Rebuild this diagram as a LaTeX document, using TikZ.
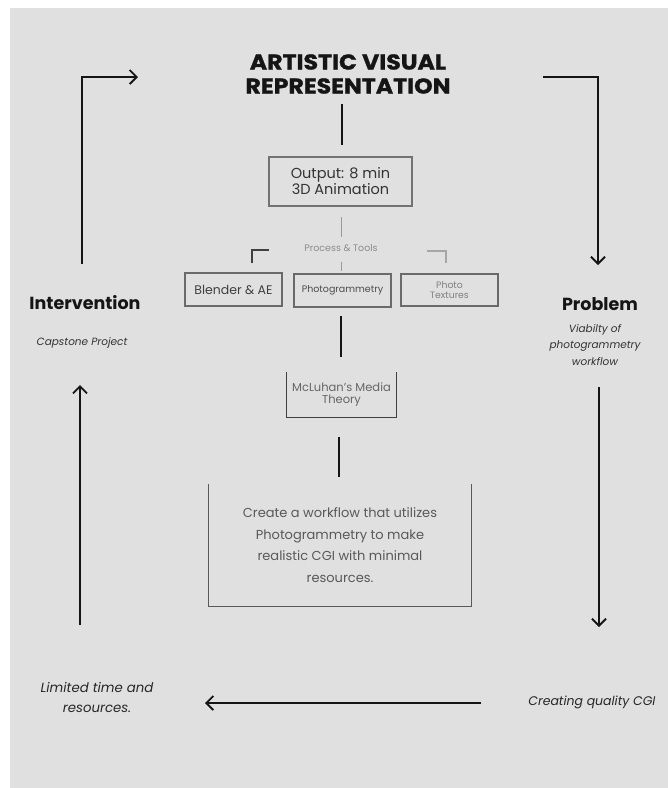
\documentclass[tikz,border=0pt]{standalone}
\usepackage{fontspec}
\setmainfont{Poppins}
\usetikzlibrary{arrows.meta}
\definecolor{bgc}{HTML}{E0E0E0}
\definecolor{ink}{HTML}{151515}
\definecolor{boxline}{HTML}{6A6A6A}
\tikzset{
  bigarrow/.style={draw=ink, line width=1.9pt, -{Straight Barb[length=7pt,width=14pt]}},
  plainline/.style={draw=ink, line width=1.3pt},
  thinline/.style={draw=#1, line width=1pt},
  thinline/.default={gray},
  boxnode/.style={draw=boxline, line width=1.2pt, inner sep=0pt, align=center},
  opennode/.style={inner sep=0pt, align=center},
  label/.style={inner sep=0pt, align=center},
}
\begin{document}
\begin{tikzpicture}[x=1pt,y=-1pt]
\useasboundingbox (0,0) rectangle (668,788);
\fill[white] (0,0) rectangle (668,788);
\fill[bgc] (10,8) rectangle (668,788);

% title
\node[label, text=ink, font=\fontsize{21.5}{24}\selectfont\bfseries\addfontfeatures{FakeStretch=1.1,FakeBold=1.2}] (title) at (348,74) {ARTISTIC VISUAL\\REPRESENTATION};

% side labels
\node[label, text=ink, font=\fontsize{17.5}{20}\selectfont\bfseries] (interv) at (85,303) {Intervention};
\node[label, text=black!80, font=\fontsize{10.5}{12}\selectfont\itshape] (capst) at (82,343) {Capstone Project};
\node[label, text=ink, font=\fontsize{17.5}{20}\selectfont\bfseries] (problem) at (600,304) {Problem};
\node[label, text=black!80, font=\fontsize{10.5}{16.5}\selectfont\itshape] (viab) at (595,345) {Viabilty of\\photogrammetry\\workflow};
\node[label, text=black!85, font=\fontsize{13.3}{20}\selectfont\itshape] (limited) at (97,697) {Limited time and\\resources.};
\node[label, text=black!85, font=\fontsize{12.5}{14}\selectfont\itshape] (creating) at (592,702) {Creating quality CGI};

% boxes
\node[boxnode, draw=black!55, minimum width=143pt, minimum height=49pt, text=black!80, font=\fontsize{14.5}{16}\selectfont] (out) at (340.5,181.5) {Output: 8 min\\3D Animation};
\node[label, text=black!45, font=\fontsize{9.5}{11}\selectfont] (proc) at (341,248) {Process \& Tools};
\node[boxnode, minimum width=97pt, minimum height=33pt, text=black!75, font=\fontsize{12.5}{14}\selectfont] (blender) at (233.5,289.5) {Blender \& AE};
\node[boxnode, minimum width=97pt, minimum height=33pt, text=black!70, font=\fontsize{9.5}{11}\selectfont] (photog) at (342.5,290.5) {Photogrammetry};
\node[boxnode, minimum width=97pt, minimum height=32pt, text=black!50, font=\fontsize{9.3}{10.5}\selectfont] (tex) at (449.5,290) {Photo\\Textures};
\node[opennode, minimum width=109pt, minimum height=45pt, text=black!60, font=\fontsize{11.5}{12.5}\selectfont] (mcl) at (341.5,394.5) {McLuhan's Media\\Theory};
\draw[draw=black!75, line width=1.2pt] (mcl.north west) -- (mcl.south west) -- (mcl.south east) -- (mcl.north east);
\node[opennode, minimum width=262pt, minimum height=122pt, text=black!65, font=\fontsize{13}{21.5}\selectfont] (big) at (340,545) {Create a workflow that utilizes\\Photogrammetry to make\\realistic CGI with minimal\\resources.};
\draw[draw=black!65, line width=1.1pt] (big.north west) -- (big.south west) -- (big.south east) -- (big.north east);

% connector coordinates
\coordinate (t1) at (342,104);
\coordinate (t2) at (342,145);
\coordinate (o1) at (341,217);
\coordinate (o2) at (341,237);
\coordinate (p1) at (341,262);
\coordinate (p2) at (341,271);
\coordinate (lb1) at (269,250);
\coordinate (lb2) at (252,263);
\coordinate (rb1) at (427,251);
\coordinate (rb2) at (446,263);
\coordinate (g1) at (341,316);
\coordinate (g2) at (341,357);
\coordinate (m1) at (339,437);
\coordinate (m2) at (339,477);

\draw[plainline] (t1) -- (t2);
\draw[thinline=black!40] (o1) -- (o2);
\draw[thinline=black!40] (p1) -- (p2);
\draw[thinline=black!75, line width=1.2pt] (lb1) -| (lb2);
\draw[thinline=black!35, line width=1.2pt] (rb1) -| (rb2);
\draw[plainline, line width=1.1pt] (g1) -- (g2);
\draw[plainline, line width=1.1pt] (m1) -- (m2);

% cycle arrows
\coordinate (la1) at (82,264);
\coordinate (la2) at (138,77);
\coordinate (ra1) at (543,77);
\coordinate (ra2) at (598,265);
\coordinate (ll1) at (80,625);
\coordinate (ll2) at (80,385);
\coordinate (rl1) at (599,387);
\coordinate (rl2) at (599,627);
\coordinate (b1) at (481,703);
\coordinate (b2) at (205,703);

\draw[bigarrow] (la1) |- (la2);
\draw[bigarrow] (ra1) -| (ra2);
\draw[bigarrow] (ll1) -- (ll2);
\draw[bigarrow] (rl1) -- (rl2);
\draw[bigarrow] (b1) -- (b2);
\end{tikzpicture}
\end{document}
